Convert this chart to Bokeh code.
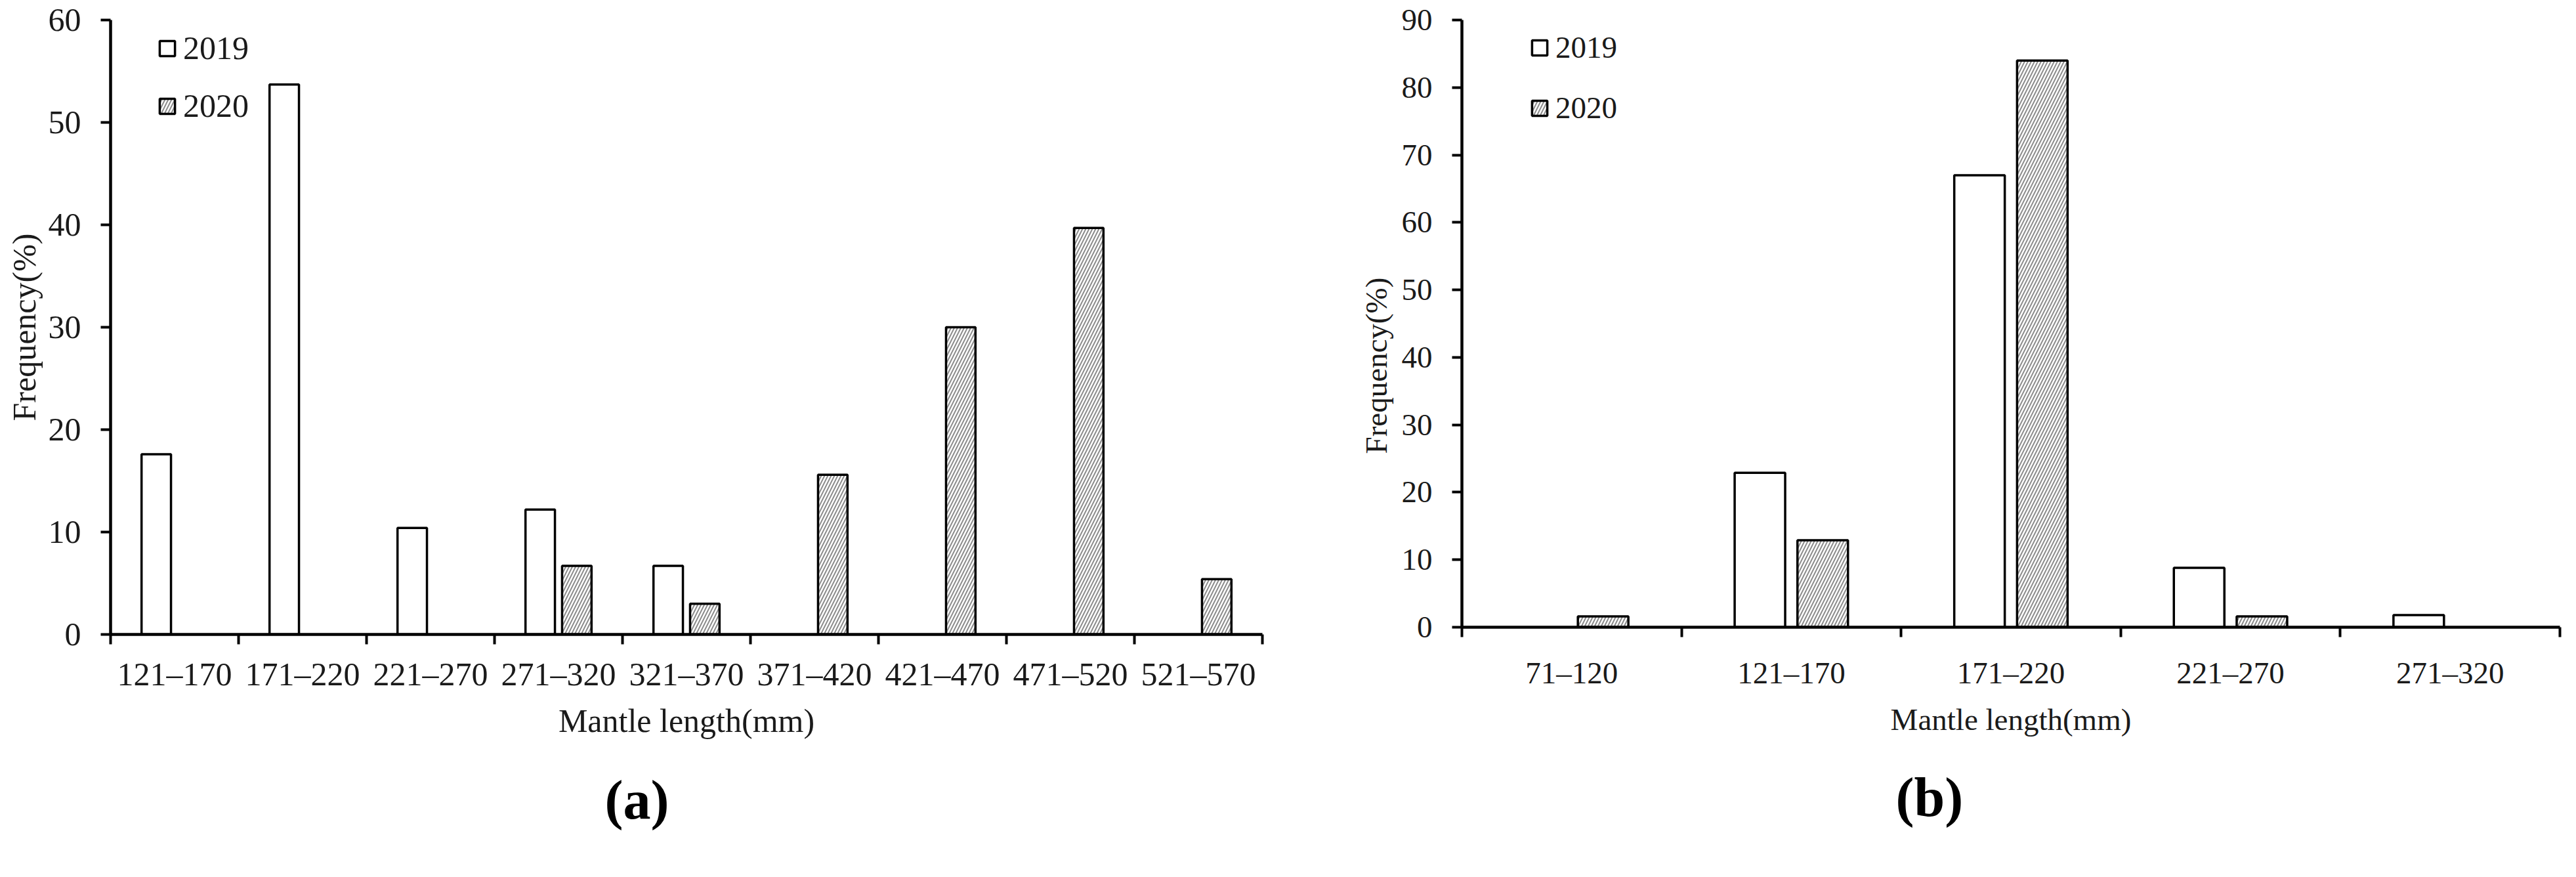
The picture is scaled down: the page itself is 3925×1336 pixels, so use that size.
import numpy as np
from bokeh.plotting import figure
from bokeh.models import (ColumnDataSource, Range1d, FixedTicker, Legend,
                          LegendItem, Title)
from bokeh.transform import dodge
from bokeh.layouts import row
from bokeh.embed import file_html
from bokeh.resources import INLINE

# ---------------- data ----------------
size_a = ["121–170", "171–220", "221–270", "271–320", "321–370",
          "371–420", "421–470", "471–520", "521–570"]
a_2019 = [17.6, 53.7, 10.4, 12.2, 6.7, 0, 0, 0, 0]
a_2020 = [0, 0, 0, 6.7, 3.0, 15.6, 30.0, 39.7, 5.4]

size_b = ["71–120", "121–170", "171–220", "221–270", "271–320"]
b_2019 = [0, 22.9, 67.0, 8.8, 1.8]
b_2020 = [1.6, 12.9, 84.0, 1.6, 0]

years = ["2019", "2020"]
yticks_a = [0, 10, 20, 30, 40, 50, 60]
yticks_b = [0, 10, 20, 30, 40, 50, 60, 70, 80, 90]

FONT = "Liberation Serif"
TXT = "#1a1a1a"
HATCH = "#8c8c8c"


def panel(cats, v19, v20, yticks, frame_w, frame_h, bl, bt, br, bb,
          fs, legend_xy, leg_spacing, xstand, xlab_stand,
          ytitle_align, ytitle_offset, ytitle_standoff,
          caption, cap_offset, cap_standoff):
    n = len(cats)
    ymax = yticks[-1]
    p = figure(frame_width=frame_w, frame_height=frame_h,
               min_border_left=bl, min_border_top=bt,
               min_border_right=br, min_border_bottom=bb,
               x_range=Range1d(0, n), y_range=Range1d(0, ymax),
               output_backend="svg", toolbar_location=None)
    p.outline_line_color = None
    p.grid.visible = False
    p.background_fill_color = "white"
    p.border_fill_color = "white"

    def src(vals):
        idx = [i for i, v in enumerate(vals) if v > 0]
        return ColumnDataSource(dict(x=[i + 0.5 for i in idx],
                                     top=[vals[i] for i in idx],
                                     cat=[cats[i] for i in idx]))

    w = 0.23
    r19 = p.vbar(x=dodge("x", -0.143), top="top", width=w, bottom=0,
                 source=src(v19), fill_color="white", line_color="black",
                 line_width=3.5)
    r20 = p.vbar(x=dodge("x", 0.143), top="top", width=w, bottom=0,
                 source=src(v20), fill_color="white", line_color="black",
                 line_width=3.5, hatch_pattern="/", hatch_color=HATCH,
                 hatch_scale=10, hatch_weight=2)

    # x axis: boundary ticks (minor), labels at centers (major)
    xa = p.xaxis[0]
    xa.ticker = FixedTicker(ticks=[i + 0.5 for i in range(n)],
                            minor_ticks=list(range(n + 1)))
    xa.major_label_overrides = {i + 0.5: c for i, c in enumerate(cats)}
    xa.major_tick_out = 0
    xa.major_tick_in = 0
    xa.minor_tick_out = 15
    xa.minor_tick_in = 0
    xa.minor_tick_line_width = 4
    xa.minor_tick_line_color = "black"
    xa.axis_line_width = 4.5
    xa.axis_line_color = "black"
    xa.major_label_text_font = FONT
    xa.major_label_text_font_size = f"{fs}px"
    xa.major_label_text_color = TXT
    xa.major_label_standoff = xstand
    xa.axis_label = "Mantle length(mm)"
    xa.axis_label_text_font = FONT
    xa.axis_label_text_font_size = f"{fs}px"
    xa.axis_label_text_font_style = "normal"
    xa.axis_label_text_color = TXT
    xa.axis_label_standoff = xlab_stand

    ya = p.yaxis[0]
    ya.ticker = FixedTicker(ticks=yticks)
    ya.major_tick_out = 15
    ya.major_tick_in = 0
    ya.major_tick_line_width = 4
    ya.major_tick_line_color = "black"
    ya.minor_tick_line_color = None
    ya.axis_line_width = 4.5
    ya.axis_line_color = "black"
    ya.major_label_text_font = FONT
    ya.major_label_text_font_size = f"{fs}px"
    ya.major_label_text_color = TXT
    ya.major_label_standoff = 30

    ytitle = Title(text="Frequency(%)", align=ytitle_align,
                   offset=ytitle_offset, standoff=ytitle_standoff,
                   text_font=FONT, text_font_size=f"{fs}px",
                   text_font_style="normal", text_color=TXT)
    p.add_layout(ytitle, "left")

    cap = Title(text=caption, align="left", offset=cap_offset,
                standoff=cap_standoff, text_font=FONT,
                text_font_size="84px", text_font_style="bold",
                text_color="black")
    p.add_layout(cap, "below")

    leg = Legend(items=[LegendItem(label=years[0], renderers=[r19]),
                        LegendItem(label=years[1], renderers=[r20])],
                 location=legend_xy, orientation="vertical")
    leg.glyph_width = 29
    leg.glyph_height = 29
    leg.label_standoff = 10
    leg.spacing = leg_spacing
    leg.padding = 0
    leg.margin = 0
    leg.border_line_color = None
    leg.background_fill_alpha = 0
    leg.label_text_font = FONT
    leg.label_text_font_size = f"{fs}px"
    leg.label_text_color = TXT
    p.add_layout(leg)
    return p


left = panel(size_a, a_2019, a_2020, yticks_a,
             frame_w=1755, frame_h=936, bl=165, bt=28, br=40, bb=346,
             fs=50, legend_xy=(72, 776), leg_spacing=30,
             xstand=17, xlab_stand=12,
             ytitle_align="center", ytitle_offset=0, ytitle_standoff=12,
             caption="(a)", cap_offset=753, cap_standoff=82)
right = panel(size_b, b_2019, b_2020, yticks_b,
              frame_w=1673, frame_h=925, bl=264, bt=30, br=10, bb=355,
              fs=47, legend_xy=(104, 764), leg_spacing=38,
              xstand=28, xlab_stand=16,
              ytitle_align="left", ytitle_offset=264, ytitle_standoff=20,
              caption="(b)", cap_offset=661, cap_standoff=82)

layout = row(left, right, spacing=0)
open("out.html", "w").write(file_html(layout, INLINE))
